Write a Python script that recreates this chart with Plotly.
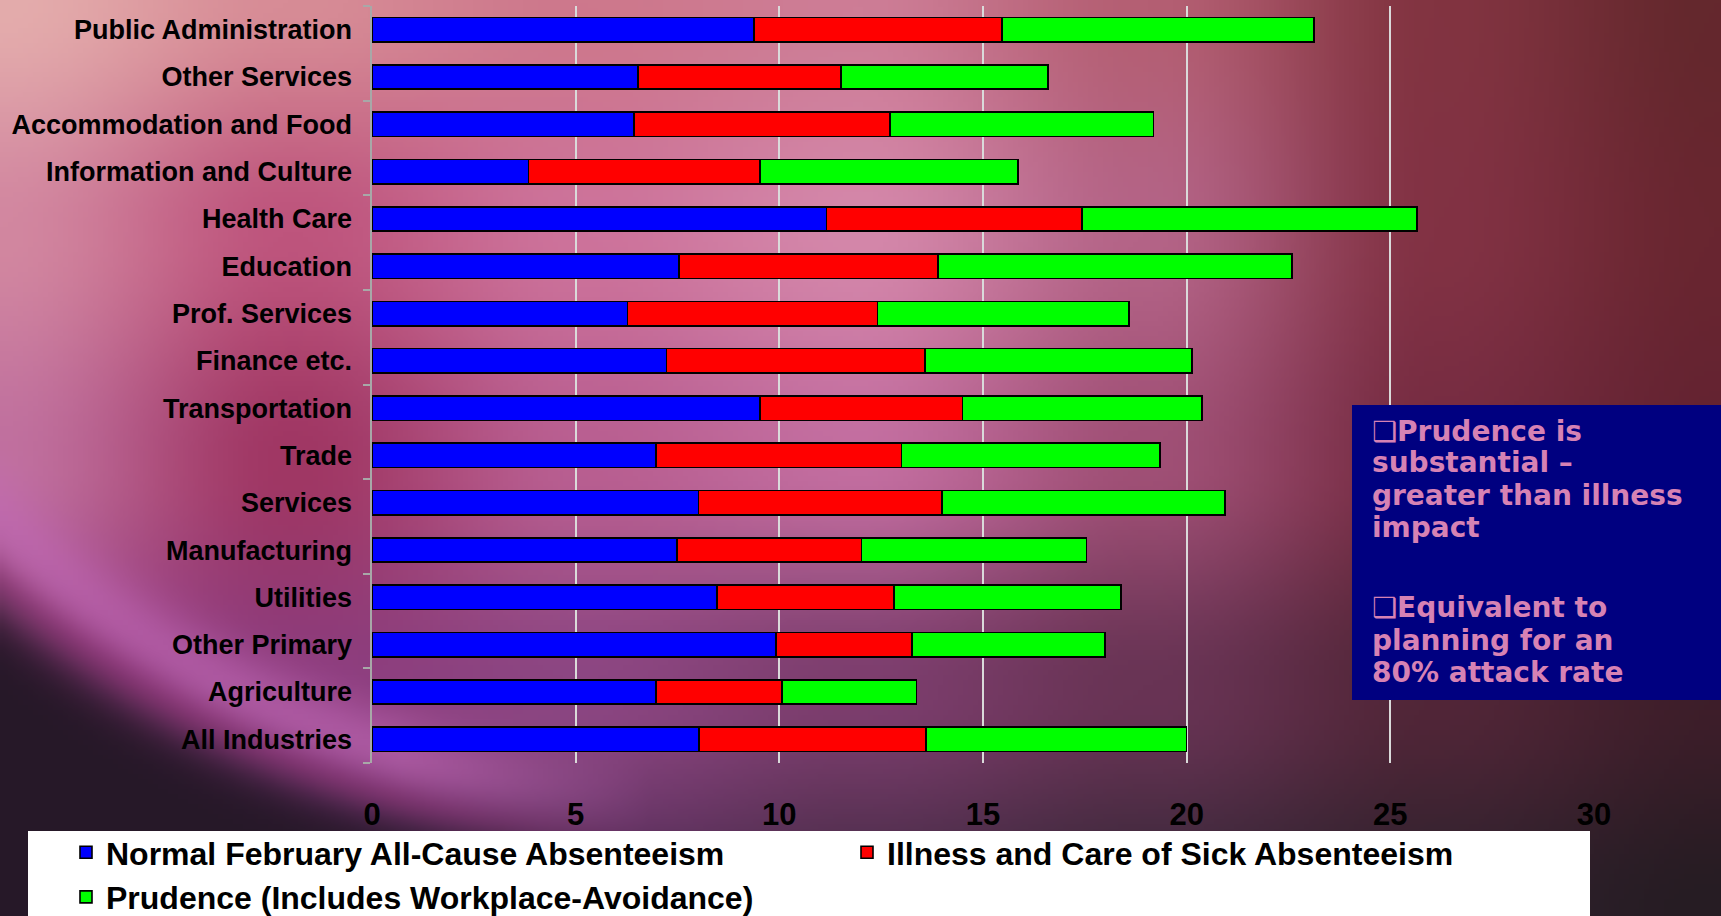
import base64, struct, zlib
import numpy as np
import plotly.graph_objects as go

# ---------------- data ----------------
industries = ["Public Administration", "Other Services", "Accommodation and Food",
              "Information and Culture", "Health Care", "Education", "Prof. Services",
              "Finance etc.", "Transportation", "Trade", "Services", "Manufacturing",
              "Utilities", "Other Primary", "Agriculture", "All Industries"]
normal_feb = [9.38, 6.53, 6.43, 3.84, 11.16, 7.54, 6.27, 7.23, 9.52, 6.97, 8.02, 7.49, 8.47, 9.92, 6.97, 8.03]
illness_care = [6.08, 4.98, 6.28, 5.68, 6.27, 6.36, 6.14, 6.34, 4.98, 6.03, 5.98, 4.53, 4.35, 3.34, 3.09, 5.57]
prudence = [7.67, 5.09, 6.48, 6.34, 8.23, 8.68, 6.17, 6.56, 5.88, 6.35, 6.94, 5.52, 5.57, 4.73, 3.31, 6.40]
series_names = ["Normal February All-Cause Absenteeism",
                "Illness and Care of Sick Absenteeism",
                "Prudence (Includes Workplace-Avoidance)"]
x_ticks = [0, 5, 10, 15, 20, 25, 30]
box_lines_1 = ["❑Prudence is", "substantial –", "greater than illness", "impact"]
box_lines_2 = ["❑Equivalent to", "planning for an", "80% attack rate"]

# ---------------- geometry ----------------
W, H = 1721, 916
L, R, T, B = 372, 1594, 6, 763          # plot area in pixels
PW, PH = R - L, B - T

def px(x):
    return (x - L) / PW

def py(y):
    return (B - y) / PH

# ---------------- background image ----------------
def make_background(w=344, h=184):
    xs = np.linspace(0, W, w)
    ys = np.linspace(0, H, h)
    X, Y = np.meshgrid(xs, ys)
    gx = np.array([0, 290, 580, 860, 1150, 1440, 1721], float)
    gy = np.array([0, 230, 460, 690, 916], float)
    grid = np.array([
        [(228, 172, 172), (215, 140, 150), (205, 120, 140), (205, 125, 150), (180, 95, 115), (130, 52, 65), (100, 40, 45)],
        [(210, 135, 160), (190, 85, 125), (205, 115, 155), (212, 135, 170), (180, 100, 135), (130, 50, 68), (105, 38, 48)],
        [(192, 112, 158), (160, 55, 100), (185, 95, 145), (195, 110, 160), (160, 80, 118), (118, 44, 66), (100, 35, 50)],
        [(150, 60, 130), (140, 60, 125), (140, 70, 130), (125, 62, 110), (105, 52, 85), (82, 38, 56), (62, 30, 42)],
        [(120, 50, 120), (110, 48, 115), (92, 48, 95), (72, 44, 72), (58, 40, 58), (48, 34, 46), (38, 28, 35)],
    ], float)
    ix = np.clip(np.searchsorted(gx, X, side="right") - 1, 0, len(gx) - 2)
    iy = np.clip(np.searchsorted(gy, Y, side="right") - 1, 0, len(gy) - 2)
    tx = ((X - gx[ix]) / (gx[ix + 1] - gx[ix]))[..., None]
    ty = ((Y - gy[iy]) / (gy[iy + 1] - gy[iy]))[..., None]
    tx = tx * tx * (3 - 2 * tx)
    ty = ty * ty * (3 - 2 * ty)
    c00 = grid[iy, ix]; c01 = grid[iy, ix + 1]
    c10 = grid[iy + 1, ix]; c11 = grid[iy + 1, ix + 1]
    img = (c00 * (1 - tx) * (1 - ty) + c01 * tx * (1 - ty) + c10 * (1 - tx) * ty + c11 * tx * ty)
    # swirl band (bottom-left)
    d = np.sqrt((X - 661) ** 2 + (Y + 153) ** 2)
    r0 = 947
    left_mask = np.clip((650 - X) / 250.0, 0, 1) * np.clip((Y - 380) / 100.0, 0, 1)
    band = np.exp(-((d - r0) / 42.0) ** 2) * left_mask
    band_col = np.array([196, 108, 186], float)
    img = img * (1 - 0.6 * band[..., None]) + band_col * 0.6 * band[..., None]
    # magenta strip just outside the band
    strip = np.exp(-((d - r0 - 45) / 20.0) ** 2) * left_mask
    strip_col = np.array([150, 50, 120], float)
    img = img * (1 - 0.4 * strip[..., None]) + strip_col * 0.4 * strip[..., None]
    # dark corner outside the band
    dark = 1 / (1 + np.exp(-(d - r0 - 62) / 14.0)) * np.clip((750 - X) / 250.0, 0, 1)
    dark_col = np.array([38, 24, 40], float)
    img = img * (1 - dark[..., None]) + dark_col * dark[..., None]
    return np.clip(img, 0, 255).astype(np.uint8)

def png_uri(arr):
    h, w, _ = arr.shape
    raw = b"".join(b"\x00" + arr[i].tobytes() for i in range(h))
    def chunk(tag, data):
        c = struct.pack(">I", len(data)) + tag + data
        return c + struct.pack(">I", zlib.crc32(tag + data) & 0xffffffff)
    png = b"\x89PNG\r\n\x1a\n" + chunk(b"IHDR", struct.pack(">IIBBBBB", w, h, 8, 2, 0, 0, 0)) \
        + chunk(b"IDAT", zlib.compress(raw, 9)) + chunk(b"IEND", b"")
    return "data:image/png;base64," + base64.b64encode(png).decode()

bg_uri = png_uri(make_background())

# ---------------- figure ----------------
colors = ["#0000FF", "#FF0000", "#00FF00"]
fig = go.Figure()
for name, vals, col in zip(series_names, [normal_feb, illness_care, prudence], colors):
    fig.add_trace(go.Bar(y=industries, x=vals, name=name, orientation="h",
                         marker=dict(color=col, line=dict(color="#000000", width=1.6))))
fig.add_trace(go.Scatter(x=[], y=[], yaxis="y2", showlegend=False, hoverinfo="skip"))

label_font = dict(family="Liberation Sans, Arial", size=27, color="black", weight="bold")

fig.update_layout(
    width=W, height=H,
    margin=dict(l=L, r=W - R, t=T, b=H - B, autoexpand=False),
    paper_bgcolor="rgba(0,0,0,0)", plot_bgcolor="rgba(0,0,0,0)",
    barmode="stack", bargap=0.485,
    xaxis=dict(range=[0, 30], tickvals=x_ticks, showgrid=True, gridcolor="#dadada", gridwidth=1.5,
               zeroline=False, showline=False, ticks="", ticklabelstandoff=30,
               tickfont=dict(family="Liberation Sans, Arial", size=31, color="black", weight="bold")),
    yaxis=dict(type="category", categoryorder="array", categoryarray=industries,
               range=[len(industries) - 0.5, -0.5], showgrid=False, zeroline=False,
               showline=False, ticks="", ticklabelstandoff=19, tickfont=label_font),
    yaxis2=dict(overlaying="y", side="left", range=[len(industries) - 0.5, -0.5],
                tickvals=[i - 0.5 for i in range(0, len(industries) + 1, 2)],
                showticklabels=False, ticks="outside", ticklen=7, tickwidth=2, tickcolor="#a8a8a8",
                showline=True, linecolor="#a8a8a8", linewidth=2, showgrid=False, zeroline=False),
    legend=dict(orientation="h", x=px(66), y=py(825), xanchor="left", yanchor="top",
                bgcolor="rgba(0,0,0,0)", traceorder="normal", entrywidth=736, entrywidthmode="pixels",
                itemwidth=30, font=dict(family="Liberation Sans, Arial", size=32, color="black", weight="bold")),
    images=[dict(source=bg_uri, xref="paper", yref="paper", x=px(0), y=py(0),
                 sizex=W / PW, sizey=H / PH, xanchor="left", yanchor="top",
                 sizing="stretch", layer="below")],
    shapes=[dict(type="rect", xref="paper", yref="paper", x0=px(1352), x1=px(1725),
                 y0=py(700), y1=py(405), fillcolor="#000080", line=dict(width=0), layer="above"),
            dict(type="rect", xref="paper", yref="paper", x0=px(28), x1=px(1590),
                 y0=py(920), y1=py(831), fillcolor="white", line=dict(width=0), layer="below")],
    showlegend=True,
)

box_font = dict(family="DejaVu Sans", size=28, color="#d682b4", weight="bold")
centers_1 = [431, 462, 495, 527]
centers_2 = [607, 640, 672]
for txt, cy in zip(box_lines_1 + box_lines_2, centers_1 + centers_2):
    fig.add_annotation(text=txt, xref="paper", yref="paper", x=px(1370), y=py(cy),
                       xanchor="left", yanchor="middle", showarrow=False, font=box_font)

fig.write_html("out.html", config={"displayModeBar": False},
               post_script="document.body.style.margin='0';document.body.style.overflow='hidden';")
